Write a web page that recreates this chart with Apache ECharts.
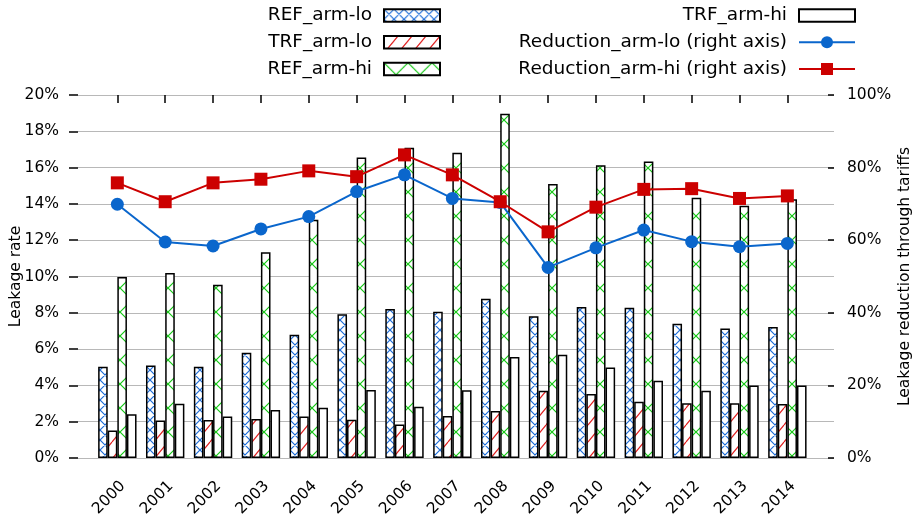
<!DOCTYPE html>
<html><head><meta charset="utf-8">
<script src="https://cdn.jsdelivr.net/npm/echarts@6/dist/echarts.min.js"></script>
<style>html,body{margin:0;padding:0;background:#fff}#c{width:916px;height:517px}</style>
</head><body><div id="c"></div>
<script>
const years = ['2000','2001','2002','2003','2004','2005','2006','2007','2008','2009','2010','2011','2012','2013','2014'];
const refLo = [5.03,5.09,5.03,5.80,6.79,7.92,8.21,8.06,8.78,7.81,8.32,8.28,7.40,7.14,7.22];
const trfLo = [1.51,2.06,2.09,2.15,2.28,2.11,1.84,2.31,2.59,3.71,3.53,3.10,3.01,3.01,2.97];
const refHi = [9.97,10.19,9.55,11.33,13.13,16.55,17.10,16.82,18.97,15.10,16.13,16.33,14.34,13.90,14.25];
const trfHi = [2.41,2.99,2.29,2.64,2.77,3.75,2.83,3.73,5.56,5.69,4.99,4.26,3.71,4.00,4.00];
const redLo = [69.9,59.5,58.4,63.1,66.5,73.4,78.0,71.5,70.4,52.5,57.9,62.8,59.6,58.2,59.1];
const redHi = [75.8,70.6,75.8,76.8,79.1,77.5,83.5,78.0,70.6,62.3,69.1,74.0,74.2,71.5,72.2];
const seriesNames = ['REF_arm-lo','TRF_arm-lo','REF_arm-hi','TRF_arm-hi','Reduction_arm-lo (right axis)','Reduction_arm-hi (right axis)'];
const leftAxisRange = [0, 20, 2];
const rightAxisRange = [0, 100, 20];

const F = 'DejaVu Sans';

function makePattern(w, h, color, draw) {
  const cv = document.createElement('canvas');
  cv.width = w; cv.height = h;
  const ctx = cv.getContext('2d');
  ctx.fillStyle = '#fff';
  ctx.fillRect(0, 0, w, h);
  ctx.strokeStyle = color;
  ctx.lineWidth = 1.2;
  ctx.beginPath();
  draw(ctx, w, h);
  ctx.stroke();
  return { image: cv, repeat: 'repeat' };
}
function xlines(ctx, w, h) {
  for (let k = -1; k <= 1; k++) {
    ctx.moveTo(k * w, 0); ctx.lineTo((k + 1) * w, h);
    ctx.moveTo(k * w, h); ctx.lineTo((k + 1) * w, 0);
  }
}
const patBlue = makePattern(10, 10, '#1c6cd8', xlines);
const patGreen = makePattern(24, 24, '#14c814', xlines);
const patRed = makePattern(14, 17, '#e02020', function (ctx, w, h) {
  for (let k = -1; k <= 1; k++) { ctx.moveTo(k * w, h); ctx.lineTo((k + 1) * w, 0); }
});

function leg(name, right, top, isLine) {
  const o = {
    data: [name], right: right, top: top, orient: 'horizontal', align: 'right',
    itemWidth: 56, itemHeight: isLine ? 15 : 12.5, padding: 0, selectedMode: false,
    textStyle: { fontFamily: F, fontSize: 18.5, color: '#000', lineHeight: 22, padding: [0, 7, 0, 0] }
  };
  if (!isLine) o.icon = 'rect';
  return o;
}

function bar(name, data, color) {
  return {
    type: 'bar', xAxisIndex: 1, yAxisIndex: 2, barWidth: 9.6, barGap: '0%',
    name: name, data: data,
    itemStyle: { color: color, borderColor: '#000', borderWidth: 1.5 },
    emphasis: { disabled: true }
  };
}
function line(name, data, color, symbol, size) {
  return {
    type: 'line', name: name, data: data, xAxisIndex: 2, yAxisIndex: 3, z: 5,
    symbol: symbol, symbolSize: size, showAllSymbol: true,
    lineStyle: { color: color, width: 2 }, itemStyle: { color: color },
    emphasis: { disabled: true }
  };
}

const chart = echarts.init(document.getElementById('c'), null, { renderer: 'canvas' });
chart.setOption({
  animation: false,
  backgroundColor: '#fff',
  textStyle: { fontFamily: F },
  legend: [
    leg(seriesNames[0], 475, 4.5, false),
    leg(seriesNames[1], 475, 31.2, false),
    leg(seriesNames[2], 475, 58, false),
    leg(seriesNames[3], 60, 4.5, false),
    leg(seriesNames[4], 60, 31.2, true),
    leg(seriesNames[5], 60, 58, true)
  ],
  grid: [
    { left: 78, right: 82, top: 95, bottom: 59, outerBoundsMode: 'none', containLabel: false },
    { left: 93.4, right: 104.7, top: 95, bottom: 59, outerBoundsMode: 'none', containLabel: false }
  ],
  xAxis: [
    { type: 'value', gridIndex: 0, show: false },
    { type: 'category', gridIndex: 1, data: years, position: 'bottom',
      axisLine: { show: false, onZero: false }, axisTick: { show: false },
      axisLabel: { rotate: 45, fontFamily: F, fontSize: 15.5, color: '#000', margin: 20, interval: 0, verticalAlign: 'top' } },
    { type: 'category', gridIndex: 1, data: years, position: 'top',
      axisLine: { show: false, onZero: false },
      axisTick: { show: true, inside: true, length: 8, alignWithLabel: true, interval: 0, lineStyle: { color: '#000', width: 1.5 } },
      axisLabel: { show: false } }
  ],
  yAxis: [
    { type: 'value', gridIndex: 0, position: 'left', min: leftAxisRange[0], max: leftAxisRange[1], interval: leftAxisRange[2],
      name: 'Leakage rate', nameLocation: 'middle', nameGap: 54, nameRotate: 90, nameMoveOverlap: false,
      nameTextStyle: { fontFamily: F, fontSize: 15.5, color: '#000' },
      axisLine: { show: false },
      axisTick: { show: true, length: 9, lineStyle: { color: '#000', width: 1.5 } },
      axisLabel: { formatter: '{value}%', fontFamily: F, fontSize: 15.5, color: '#000', margin: 19 },
      splitLine: { show: true, lineStyle: { color: '#b8b8b8', width: 1 } } },
    { type: 'value', gridIndex: 0, position: 'right', min: rightAxisRange[0], max: rightAxisRange[1], interval: rightAxisRange[2],
      name: 'Leakage reduction through tariffs', nameLocation: 'middle', nameGap: 63, nameRotate: 90, nameMoveOverlap: false,
      nameTextStyle: { fontFamily: F, fontSize: 15.5, color: '#000' },
      axisLine: { show: false },
      axisTick: { show: true, inside: true, length: 6, lineStyle: { color: '#000', width: 1.5 } },
      axisLabel: { formatter: '{value}%', fontFamily: F, fontSize: 15.5, color: '#000', margin: 13 },
      splitLine: { show: false } },
    { type: 'value', gridIndex: 1, min: leftAxisRange[0], max: leftAxisRange[1], show: false },
    { type: 'value', gridIndex: 1, min: rightAxisRange[0], max: rightAxisRange[1], show: false }
  ],
  series: [
    bar(seriesNames[0], refLo, patBlue),
    bar(seriesNames[1], trfLo, patRed),
    bar(seriesNames[2], refHi, patGreen),
    bar(seriesNames[3], trfHi, '#ffffff'),
    line(seriesNames[4], redLo, '#0a66cc', 'circle', 13),
    line(seriesNames[5], redHi, '#cc0000', 'rect', 13)
  ]
});
</script>
</body></html>
